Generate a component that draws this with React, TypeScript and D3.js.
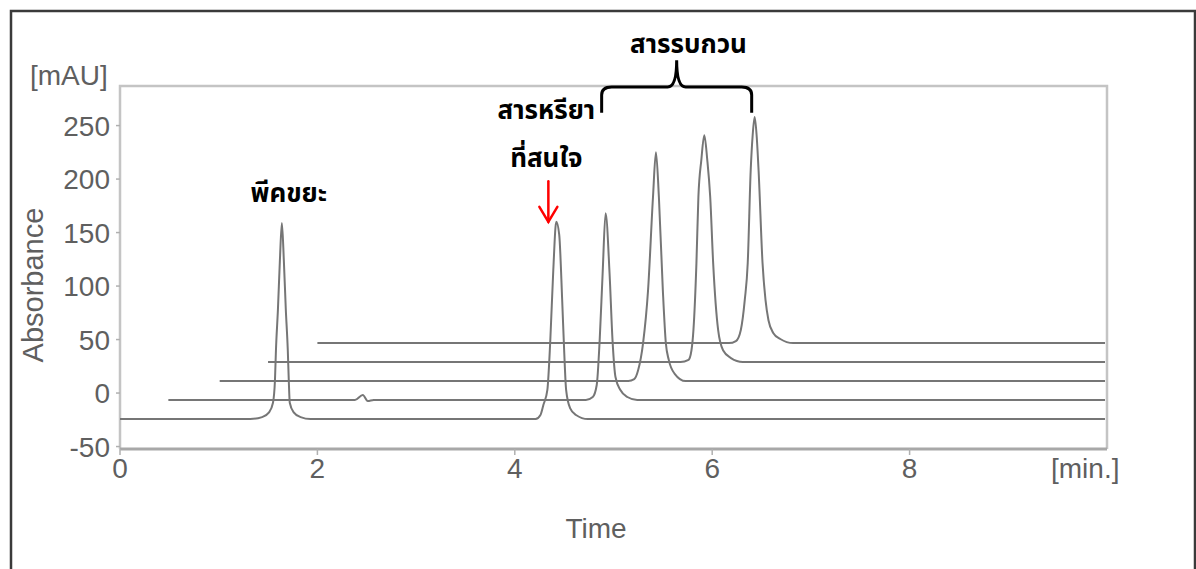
import React from "react";
import * as d3 from "d3";

// ---- Data ----
const xTicks = [0, 2, 4, 6, 8];
const yTicks = [-50, 0, 50, 100, 150, 200, 250];

// each trace: start time, end time, baseline (mAU)
const traceStarts = [0, 0.49, 1.01, 1.5, 2.0];
const traceEnd = 9.98;
const baselines = [-24.3, -6.5, 11.2, 29, 46.7];

// trace 1: junk peak + peak of interest
const trace1Points: [number, number][] = [
  [1.32, -24.3], [1.44, -22.5], [1.51, -18], [1.55, -9], [1.57, 12], [1.58, 40], [1.6, 78], [1.62, 124],
  [1.64, 159], [1.66, 124], [1.68, 78], [1.7, 40], [1.71, 12], [1.72, -9], [1.76, -18], [1.83, -22.5], [1.93, -24.3],
  [4.21, -24.3], [4.26, -20.5], [4.29, -11], [4.33, 3], [4.36, 50], [4.39, 115], [4.42, 160], [4.45, 148],
  [4.48, 87], [4.5, 40], [4.52, 3], [4.56, -14], [4.62, -20.5], [4.74, -24.3],
];
const trace2Points: [number, number][] = [
  [2.38, -6.5], [2.46, -1.9], [2.51, -7.5], [2.57, -6.5],
  [4.72, -6.5], [4.79, -3.7], [4.83, 7.5], [4.86, 49.5], [4.89, 112], [4.92, 168], [4.96, 112], [4.99, 49.5],
  [5.02, 15], [5.07, 2.8], [5.14, -3.7], [5.24, -6.5],
];
const trace3Points: [number, number][] = [
  [5.15, 11.2], [5.21, 13], [5.25, 21.5], [5.3, 47], [5.35, 96], [5.4, 183], [5.43, 225], [5.46, 183],
  [5.5, 96], [5.53, 47], [5.56, 31], [5.62, 18], [5.73, 11.2],
];
const trace4Points: [number, number][] = [
  [5.68, 29], [5.76, 31], [5.79, 40], [5.81, 59], [5.84, 121], [5.86, 183], [5.89, 218], [5.92, 241],
  [5.95, 218], [5.98, 183], [6.01, 121], [6.06, 59], [6.11, 40], [6.19, 32.7], [6.31, 29],
];
const trace5Points: [number, number][] = [
  [6.17, 46.7], [6.24, 48.6], [6.29, 59], [6.33, 87], [6.36, 121.5], [6.39, 208], [6.41, 241], [6.43, 258],
  [6.45, 241], [6.47, 208], [6.51, 121.5], [6.54, 87], [6.57, 68], [6.62, 56], [6.69, 50.5], [6.82, 46.7],
];
const tracePeaks = [trace1Points, trace2Points, trace3Points, trace4Points, trace5Points];

// annotations (data units)
const junkLabel = { text: "พีคขยะ", t: 1.71, v: 179 };
const targetLabel1 = { text: "สารหรียา", t: 4.32, v: 256 };
const targetLabel2 = { text: "ที่สนใจ", t: 4.32, v: 211 };
const arrowInfo = { t: 4.34, vFrom: 198, vTo: 160 };
const bracketInfo = { t0: 4.88, t1: 6.4, tMid: 5.64, vEnd: 262, vLine: 286, vTip: 311 };
const interfLabel = { text: "สารรบกวน", t: 5.76, v: 318 };

export default function App() {
  const W = 1196, H = 569;
  const x = d3.scaleLinear().domain([0, 10]).range([120, 1107]);
  const y = d3.scaleLinear().domain([-52.3, 287]).range([449, 86]);

  const line = d3
    .line<[number, number]>()
    .x((d) => x(d[0]))
    .y((d) => y(d[1]))
    .curve(d3.curveMonotoneX);

  const traces = traceStarts.map((s, i) => {
    const pts: [number, number][] = [[s, baselines[i]], ...tracePeaks[i], [traceEnd, baselines[i]]];
    return line(pts) || "";
  });

  const tickColor = "#5f5f5f";
  const font = "'Liberation Sans', Arial, sans-serif";
  const thai = "'Noto Sans Thai', 'Noto Sans Thai Looped', 'Loma', 'Garuda', 'Noto Sans', 'DejaVu Sans', sans-serif";

  const b = bracketInfo;
  const bx0 = x(b.t0), bx1 = x(b.t1), bm = x(b.tMid);
  const byE = y(b.vEnd), byL = y(b.vLine), byT = y(b.vTip);
  const bracketPath = `M${bx0},${byE} L${bx0},${byL + 8} Q${bx0},${byL} ${bx0 + 10},${byL} L${bm - 9},${byL} Q${bm},${byL} ${bm},${byT} Q${bm},${byL} ${bm + 9},${byL} L${bx1 - 10},${byL} Q${bx1},${byL} ${bx1},${byL + 8} L${bx1},${byE}`;

  const ax = x(arrowInfo.t), ay0 = y(arrowInfo.vFrom), ay1 = y(arrowInfo.vTo);

  return (
    <svg width={W} height={H} style={{ position: "absolute", left: 0, top: 0, background: "#fff" }}>
      <rect x={0} y={0} width={W} height={H} fill="#fff" />
      {/* outer frame */}
      <path d={`M11,${H} L11,11 L1195,11 L1195,${H}`} fill="none" stroke="#3a3a3a" strokeWidth={2.5} />

      {/* plot box */}
      <path d={`M${x(0)},${y(-52.3)} L${x(0)},${y(287)} L${x(10)},${y(287)} L${x(10)},${y(-52.3)}`} fill="none" stroke="#c4c4c4" strokeWidth={2.5} />
      <line x1={x(0)} x2={x(10)} y1={y(-52.3)} y2={y(-52.3)} stroke="#a8a8a8" strokeWidth={3} />

      {/* y ticks */}
      {yTicks.map((t) => (
        <g key={"y" + t}>
          <line x1={x(0) - 4} x2={x(0)} y1={y(t)} y2={y(t)} stroke="#b0b0b0" strokeWidth={1.5} />
          <text x={110} y={y(t)} dy="0.36em" textAnchor="end" fontFamily={font} fontSize={28} fill={tickColor}>
            {t}
          </text>
        </g>
      ))}
      {/* x ticks */}
      {xTicks.map((t) => (
        <g key={"x" + t}>
          <line x1={x(t)} x2={x(t)} y1={y(-52.3)} y2={y(-52.3) + 6} stroke="#b0b0b0" strokeWidth={1.5} />
          <text x={x(t)} y={478} textAnchor="middle" fontFamily={font} fontSize={28} fill={tickColor}>
            {t}
          </text>
        </g>
      ))}
      <text x={1051} y={478} fontFamily={font} fontSize={28} fill={tickColor}>[min.]</text>
      <text x={30} y={85} fontFamily={font} fontSize={28} fill={tickColor}>[mAU]</text>
      <text x={596} y={538} textAnchor="middle" fontFamily={font} fontSize={28} fill={tickColor}>Time</text>
      <text transform={`translate(43,285) rotate(-90)`} textAnchor="middle" fontFamily={font} fontSize={29} fill={tickColor}>
        Absorbance
      </text>

      {/* traces */}
      {traces.map((d, i) => (
        <path key={i} d={d} fill="none" stroke="#767676" strokeWidth={2} strokeLinejoin="round" />
      ))}

      {/* annotations */}
      <text x={x(junkLabel.t)} y={y(junkLabel.v)} textAnchor="middle" fontFamily={thai} fontWeight="bold" fontSize={26} fill="#000">
        {junkLabel.text}
      </text>
      <text x={x(targetLabel1.t)} y={y(targetLabel1.v)} textAnchor="middle" fontFamily={thai} fontWeight="bold" fontSize={26} fill="#000">
        {targetLabel1.text}
      </text>
      <text x={x(targetLabel2.t)} y={y(targetLabel2.v)} textAnchor="middle" fontFamily={thai} fontWeight="bold" fontSize={26} fill="#000">
        {targetLabel2.text}
      </text>
      <text x={x(interfLabel.t)} y={y(interfLabel.v)} textAnchor="middle" fontFamily={thai} fontWeight="bold" fontSize={26} fill="#000">
        {interfLabel.text}
      </text>
      <path d={bracketPath} fill="none" stroke="#000" strokeWidth={3} />
      <g stroke="#ff0000" strokeWidth={2.5} fill="none" strokeLinecap="round">
        <line x1={ax} x2={ax} y1={ay0} y2={ay1} />
        <path d={`M${ax - 9},${ay1 - 15} L${ax},${ay1} L${ax + 9},${ay1 - 15}`} />
      </g>
    </svg>
  );
}
